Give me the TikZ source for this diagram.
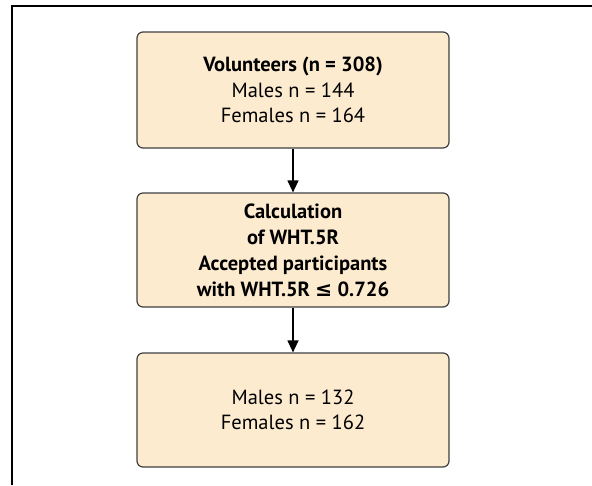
\documentclass[tikz,border=0pt]{standalone}
\usepackage{fontspec}
\setmainfont{PT Sans}
\newfontfamily\symfont{DejaVu Sans}
\usetikzlibrary{arrows.meta}
\definecolor{boxfill}{RGB}{253,235,208}
\definecolor{boxline}{RGB}{64,64,64}
\tikzset{
    flowbox/.style={
        draw=boxline,
        fill=boxfill,
        line width=1.2pt,
        rounded corners=6pt,
        minimum width=312pt,
        minimum height=114pt,
        align=center,
        font=\fontsize{20.5}{25.5}\selectfont
    }
}
\begin{document}
\begin{tikzpicture}[x=1pt, y=-1pt, >={Triangle[length=12pt, width=11pt]}]
    \useasboundingbox (0,0) rectangle (592,485);

    % frame
    \draw[line width=1.6pt] (12,485) -- (12,6) -- (592,6);

    \node[flowbox, minimum height=116pt] (vol) at (293,90)
        {\textbf{Volunteers (n = 308)}\\Males n = 144\\Females n = 164};
    \node[flowbox, font=\fontsize{20.5}{26}\selectfont\bfseries] (calc) at (293,250)
        {Calculation\\of WHT.5R\\Accepted participants\\with WHT.5R {\symfont\bfseries ≤} 0.726};
    \node[flowbox] (final) at (293,410)
        {Males n = 132\\Females n = 162};

    \draw[->, line width=1.2pt] (vol) -- (calc);
    \draw[->, line width=1.2pt] (calc) -- (final);
\end{tikzpicture}
\end{document}
